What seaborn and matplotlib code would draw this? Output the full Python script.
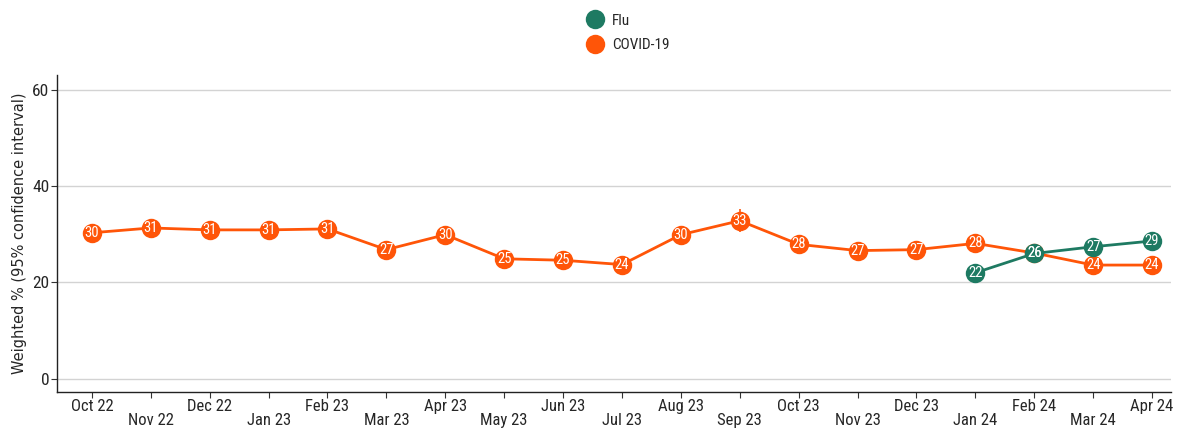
import pandas as pd
import numpy as np
import seaborn as sns
import matplotlib.pyplot as plt
from matplotlib.lines import Line2D
from matplotlib import font_manager

months = ['Oct 22', 'Nov 22', 'Dec 22', 'Jan 23', 'Feb 23', 'Mar 23', 'Apr 23',
          'May 23', 'Jun 23', 'Jul 23', 'Aug 23', 'Sep 23', 'Oct 23', 'Nov 23',
          'Dec 23', 'Jan 24', 'Feb 24', 'Mar 24', 'Apr 24']
covid = [30.3, 31.3, 30.9, 30.9, 31.1, 26.8, 29.9, 24.9, 24.6, 23.7, 29.9, 32.8,
         27.9, 26.6, 26.8, 28.1, 26.1, 23.6, 23.6]
covid_lo = [29.3, 30.3, 30.0, 30.0, 30.2, 25.9, 29.0, 24.0, 23.7, 22.8, 29.0, 30.4,
            27.0, 25.7, 25.9, 27.2, 25.2, 22.7, 22.7]
covid_hi = [31.3, 32.3, 31.8, 31.8, 32.0, 27.7, 30.8, 25.8, 25.5, 24.6, 30.8, 35.3,
            28.8, 27.5, 27.7, 29.0, 27.0, 24.5, 24.5]
flu_months = ['Jan 24', 'Feb 24', 'Mar 24', 'Apr 24']
flu = [22.0, 26.0, 27.4, 28.6]

COVID_COL = '#FF5508'
FLU_COL = '#1E7A62'

df = pd.concat([
    pd.DataFrame({'month': months, 'value': covid, 'series': 'COVID-19'}),
    pd.DataFrame({'month': flu_months, 'value': flu, 'series': 'Flu'}),
])
df['x'] = df['month'].map({m: i for i, m in enumerate(months)})

sns.set_style('white')
plt.rcParams['font.family'] = ['DejaVu Sans']

# narrow font for ticks / labels if one is installed
installed = {f.name for f in font_manager.fontManager.ttflist}
narrow = [f for f in ['Liberation Sans Narrow', 'Roboto Condensed', 'DejaVu Sans Condensed']
          if f in installed]
NARROW = narrow + ['DejaVu Sans'] if narrow else ['DejaVu Sans']

fig, ax = plt.subplots(figsize=(11.78, 4.32), dpi=100)
fig.subplots_adjust(left=0.048, right=0.994, top=0.826, bottom=0.093)

# error bars (mostly hidden behind markers)
xs = np.arange(len(months))
ax.vlines(xs, covid_lo, covid_hi, color=COVID_COL, lw=1.2, zorder=2)

sns.lineplot(data=df, x='x', y='value', hue='series',
             palette={'COVID-19': COVID_COL, 'Flu': FLU_COL},
             hue_order=['COVID-19', 'Flu'], marker='o', markersize=14,
             markeredgewidth=0, linewidth=2, legend=False, ax=ax, zorder=3)

for _, r in df.iterrows():
    ax.text(r['x'], r['value'], f"{r['value']:.0f}", color='white', fontsize=10.5,
            ha='center', va='center', family=NARROW, zorder=5)

ax.set_xlim(-0.6, 18.32)
ax.set_ylim(-2.7, 63)
ax.set_yticks([0, 20, 40, 60])
ax.yaxis.grid(True, color='#d3d3d3', lw=1)
ax.set_xticks(xs)
ax.set_xticklabels([m if i % 2 == 0 else '\n' + m for i, m in enumerate(months)],
                   family=NARROW, fontsize=12, linespacing=0.95)
for lab in ax.get_yticklabels():
    lab.set_family(NARROW)
    lab.set_fontsize(12.5)
ax.tick_params(axis='both', length=4, width=0.8, color='#333333', pad=1,
               bottom=True, left=True)
ax.set_xlabel('')
ax.set_ylabel('Weighted % (95% confidence interval)', fontsize=10.5,
              family=['DejaVu Sans'])
sns.despine(ax=ax)
for s in ['left', 'bottom']:
    ax.spines[s].set_color('#222222')
    ax.spines[s].set_linewidth(1)

handles = [Line2D([], [], ls='none', marker='o', ms=14, color=FLU_COL, mew=0),
           Line2D([], [], ls='none', marker='o', ms=14, color=COVID_COL, mew=0)]
fig.legend(handles, ['Flu', 'COVID-19'], loc='upper center',
           bbox_to_anchor=(0.53, 1.0), frameon=False, handletextpad=0.1,
           labelspacing=0.7, prop={'family': NARROW, 'size': 11})

fig.savefig('out.png', dpi=100)
